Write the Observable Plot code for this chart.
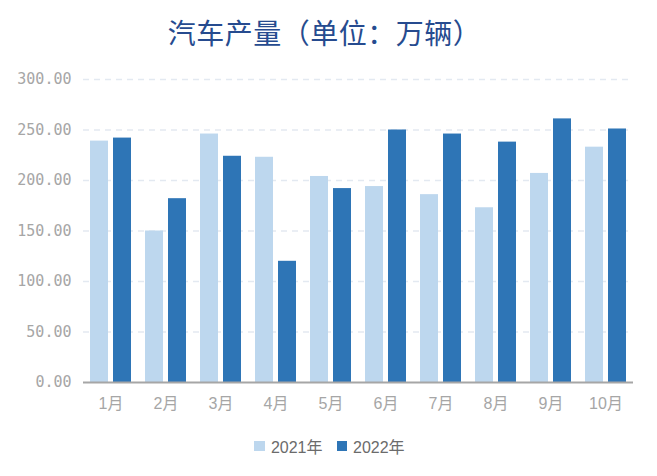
<!DOCTYPE html>
<html>
<head>
<meta charset="utf-8">
<script src="https://cdn.jsdelivr.net/npm/d3@7"></script>
<script src="https://cdn.jsdelivr.net/npm/@observablehq/plot@0.6"></script>
<style>
  html, body { margin: 0; padding: 0; background: #fff; }
  #wrap { width: 657px; height: 476px; position: relative; overflow: hidden; }
  #title { height: 50px; line-height: 64px; text-align: center; font-family: "Noto Sans CJK SC", sans-serif; font-size: 28px; font-weight: 400; color: #264b8f; letter-spacing: 0.5px; margin-left: -8px; }
  #legend { display: flex; justify-content: center; align-items: center; height: 42px; font-family: "Liberation Sans", "Noto Sans CJK SC", sans-serif; font-size: 16px; color: #6b6b6b; margin-left: 2px; }
  #legend .item { display: flex; align-items: center; margin: 0 7px; }
  #legend .sw { width: 10.5px; height: 10.5px; margin-right: 6px; }
  svg g[aria-label="y-axis tick label"] text { font-family: "DejaVu Sans Mono", monospace; font-size: 15px; }
  svg g[aria-label="fx-axis tick label"] text { font-family: "Liberation Sans", "Noto Sans CJK SC", sans-serif; font-size: 16px; }
</style>
</head>
<body>
<div id="wrap">
  <div id="title">汽车产量（单位：万辆）</div>
  <div id="chart"></div>
  <div id="legend"></div>
</div>
<script>
const months = ["1月","2月","3月","4月","5月","6月","7月","8月","9月","10月"];
const years = ["2021年","2022年"];
const values2021 = [239, 150, 246, 223, 204, 194, 186, 173, 207, 233];
const values2022 = [242, 182, 224, 120, 192, 250, 246, 238, 261, 251];
const colors = ["#bdd7ee", "#2e75b6"];

const data = [];
months.forEach((m, i) => {
  data.push({month: m, year: years[0], value: values2021[i]});
  data.push({month: m, year: years[1], value: values2022[i]});
});

const chart = Plot.plot({
  width: 657,
  height: 375,
  marginTop: 29,
  marginBottom: 43,
  marginLeft: 81,
  marginRight: 22,
  style: {fontSize: "14px", color: "#a6a6a6", background: "#fff"},
  fx: {domain: months, padding: 0, label: null, tickSize: 0, tickPadding: 15, axis: "bottom"},
  x: {domain: years, paddingInner: 0.21, paddingOuter: 0.285, axis: null},
  y: {domain: [0, 300], ticks: 6, tickFormat: d3.format(".2f"), tickSize: 0, tickPadding: 12, label: null},
  color: {domain: years, range: colors},
  marks: [
    Plot.ruleY([50, 100, 150, 200, 250, 300], {stroke: "#e3e9f1", strokeWidth: 1.5, strokeDasharray: "6,5"}),
    Plot.barY(data, {fx: "month", x: "year", y: "value", fill: "year"}),
    Plot.ruleY([0], {stroke: "#a6a6a6", strokeWidth: 2})
  ]
});
document.getElementById("chart").appendChild(chart);

const legend = document.getElementById("legend");
years.forEach((y, i) => {
  const it = document.createElement("div");
  it.className = "item";
  const sw = document.createElement("div");
  sw.className = "sw";
  sw.style.background = colors[i];
  const t = document.createElement("span");
  t.textContent = y;
  it.appendChild(sw);
  it.appendChild(t);
  legend.appendChild(it);
});
</script>
</body>
</html>
